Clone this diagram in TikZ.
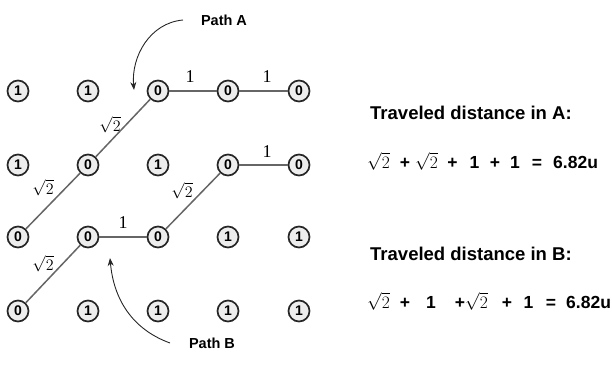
\RequirePackage{fix-cm}
\documentclass[tikz,border=0pt]{standalone}
\usepackage{fontspec}
\setmainfont{Liberation Sans}
\newfontfamily\serifnum{Liberation Serif}
\usetikzlibrary{arrows.meta}
\begin{document}
\begin{tikzpicture}[x=1pt,y=-1pt,
  cell/.style={circle,draw=black!85,line width=1.7pt,fill=black!7,minimum size=21pt,inner sep=0pt,font=\bfseries\fontsize{14}{14}\selectfont},
  route/.style={draw=black!60,line width=1.5pt},
  elab/.style={font=\serifnum\fontsize{18}{18}\selectfont,inner sep=0pt},
  rlab/.style={font=\fontsize{16}{16}\selectfont,inner sep=0pt},
  pointer/.style={draw=black!85,line width=0.9pt,-{Stealth[length=8pt,width=6pt]}},
  plabel/.style={font=\bfseries\fontsize{14.5}{14.5}\selectfont,inner sep=0pt},
  head/.style={font=\bfseries\fontsize{18.5}{18.5}\selectfont,anchor=base west,inner sep=0pt},
  tok/.style={font=\bfseries\fontsize{17.5}{17.5}\selectfont,anchor=base,inner sep=0pt}]
\useasboundingbox (0,0) rectangle (612,369);
% grid
\node[cell] (a1) at (18,91) {1};
\node[cell] (b1) at (88,91) {1};
\node[cell] (c1) at (158,91) {0};
\node[cell] (d1) at (228,91) {0};
\node[cell] (e1) at (299,91) {0};
\node[cell] (a2) at (18,165) {1};
\node[cell] (b2) at (88,165) {0};
\node[cell] (c2) at (158,165) {1};
\node[cell] (d2) at (228,165) {0};
\node[cell] (e2) at (299,165) {0};
\node[cell] (a3) at (18,237) {0};
\node[cell] (b3) at (88,237) {0};
\node[cell] (c3) at (158,237) {0};
\node[cell] (d3) at (228,237) {1};
\node[cell] (e3) at (299,237) {1};
\node[cell] (a4) at (18,311) {0};
\node[cell] (b4) at (88,311) {1};
\node[cell] (c4) at (158,311) {1};
\node[cell] (d4) at (228,311) {1};
\node[cell] (e4) at (299,311) {1};
% path A
\draw[route] (a3) -- (b2);
\draw[route] (b2) -- (c1);
\draw[route] (c1) -- (d1);
\draw[route] (d1) -- (e1);
% path B
\draw[route] (a4) -- (b3);
\draw[route] (b3) -- (c3);
\draw[route] (c3) -- (d2);
\draw[route] (d2) -- (e2);
% edge labels
\node[rlab] (la1) at (43,188) {$\sqrt{2}$};
\node[rlab] (la2) at (110,125) {$\sqrt{2}$};
\node[elab] (la3) at (190,77) {1};
\node[elab] (la4) at (267,77) {1};
\node[rlab] (lb1) at (43,264) {$\sqrt{2}$};
\node[elab] (lb2) at (123,223) {1};
\node[rlab] (lb3) at (182,191) {$\sqrt{2}$};
\node[elab] (lb4) at (267,152) {1};
% pointers
\node[plabel] (pa) at (224,20) {Path A};
\node[plabel] (pb) at (212,343) {Path B};
\coordinate (pas) at (183,20);
\coordinate (pae) at (134,90);
\coordinate (pbs) at (170,343);
\coordinate (pbe) at (110,258);
\draw[pointer] (pas) to[out=185,in=95] (pae);
\draw[pointer] (pbs) to[out=160,in=-85] (pbe);
% right text
\node[head] (ha) at (370,119.5) {Traveled distance in A:};
\node[tok] (ea1) at (378.5,168) {$\sqrt{2}$};
\node[tok] (ea2) at (405,168) {+};
\node[tok] (ea3) at (426.5,168) {$\sqrt{2}$};
\node[tok] (ea4) at (452.5,168) {+};
\node[tok] (ea5) at (474.5,168) {1};
\node[tok] (ea6) at (495,168) {+};
\node[tok] (ea7) at (515,168) {1};
\node[tok] (ea8) at (537,168) {=};
\node[tok,anchor=base west] (ea9) at (553,168) {6.82u};
\node[head] (hb) at (370,260.5) {Traveled distance in B:};
\node[tok] (eb1) at (378.5,308) {$\sqrt{2}$};
\node[tok] (eb2) at (405,308) {+};
\node[tok] (eb3) at (431,308) {1};
\node[tok] (eb4) at (460,308) {+};
\node[tok] (eb5) at (476.5,308) {$\sqrt{2}$};
\node[tok] (eb6) at (507,308) {+};
\node[tok] (eb7) at (528.5,308) {1};
\node[tok] (eb8) at (551,308) {=};
\node[tok,anchor=base west] (eb9) at (566,308) {6.82u};
\end{tikzpicture}
\end{document}
